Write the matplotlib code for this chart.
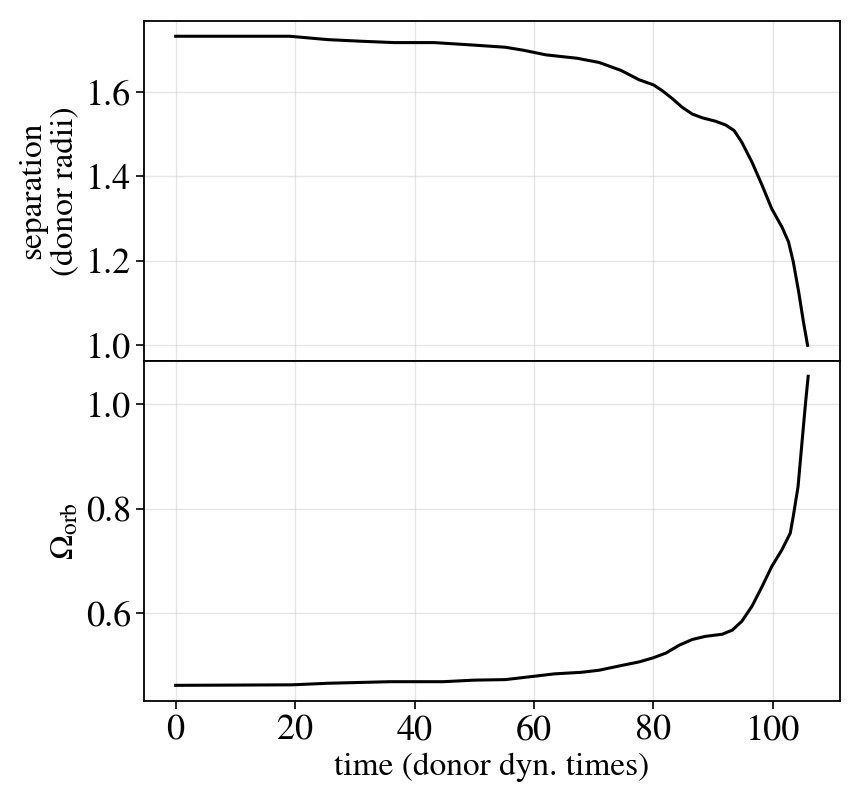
import matplotlib
matplotlib.use("Agg")
import matplotlib.pyplot as plt

# values
time_sep = [0.0, 19.1, 25.5, 31.4, 36.6, 43.3, 50.0, 55.2, 58.2, 62.0, 67.2, 70.9,
            74.6, 77.6, 80.0, 81.5, 83.2, 84.8, 86.5, 88.2, 90.4, 92.1, 93.5, 94.8,
            96.5, 98.2, 99.8, 101.5, 102.6, 103.4, 104.3, 105.1, 105.8]
separation = [1.731, 1.731, 1.723, 1.719, 1.716, 1.716, 1.710, 1.705, 1.698, 1.687,
              1.679, 1.669, 1.650, 1.628, 1.616, 1.602, 1.583, 1.563, 1.547, 1.538,
              1.530, 1.521, 1.508, 1.480, 1.433, 1.378, 1.323, 1.280, 1.245, 1.198,
              1.127, 1.056, 1.000]

time_omega = [0.0, 19.5, 25.5, 35.9, 44.8, 50.0, 55.2, 59.7, 63.4, 67.9, 70.9, 74.6,
              77.6, 80.0, 82.1, 84.3, 86.5, 88.7, 91.5, 93.2, 94.8, 96.5, 98.2, 99.8,
              101.5, 102.9, 103.4, 104.2, 104.7, 105.2, 105.5, 105.9]
omega_orb = [0.461, 0.462, 0.465, 0.468, 0.468, 0.471, 0.472, 0.478, 0.483, 0.486,
             0.490, 0.499, 0.506, 0.514, 0.523, 0.538, 0.549, 0.555, 0.559, 0.567,
             0.584, 0.613, 0.651, 0.689, 0.721, 0.753, 0.785, 0.842, 0.906, 0.970,
             1.008, 1.054]

plt.rcParams['font.family'] = ['STIXGeneral', 'DejaVu Serif']
plt.rcParams['mathtext.fontset'] = 'stix'

fig, (ax1, ax2) = plt.subplots(2, 1, sharex=True, figsize=(8.64, 8.0), dpi=100)
fig.subplots_adjust(left=0.1667, right=0.972, top=0.974, bottom=0.124, hspace=0)

ax1.plot(time_sep, separation, color='black', lw=2.2, solid_joinstyle='round')
ax2.plot(time_omega, omega_orb, color='black', lw=2.2, solid_joinstyle='round')

for ax in (ax1, ax2):
    ax.grid(True, color='#cccccc', alpha=0.5, lw=1)
    ax.tick_params(labelsize=26, length=6, width=1.2)
    for s in ax.spines.values():
        s.set_linewidth(1.3)

ax1.tick_params(axis='x', length=0)
ax1.set_yticks([1.0, 1.2, 1.4, 1.6])
ax2.set_yticks([0.6, 0.8, 1.0])
ax2.set_xticks([0, 20, 40, 60, 80, 100])

ax1.set_ylabel("separation\n(donor radii)", fontsize=24, linespacing=1.15)
ax2.set_ylabel(r"$\Omega_{\rm orb}$", fontsize=24)
ax2.set_xlabel("time (donor dyn. times)", fontsize=24)

fig.savefig("out.png", dpi=100)
